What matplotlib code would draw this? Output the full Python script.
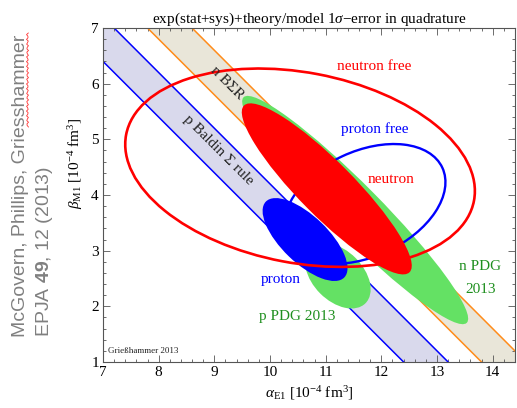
import numpy as np
import matplotlib
matplotlib.use('Agg')
import matplotlib.pyplot as plt
from matplotlib.patches import Ellipse
from matplotlib.ticker import MultipleLocator

plt.rcParams['font.family'] = ['Liberation Serif', 'DejaVu Serif']
plt.rcParams['mathtext.fontset'] = 'custom'
plt.rcParams['mathtext.rm'] = 'Liberation Serif'
plt.rcParams['mathtext.it'] = 'Liberation Serif:italic'
plt.rcParams['mathtext.bf'] = 'Liberation Sans:bold'

# sum rule bands: alpha + beta = centre +- err
baldin_p = [13.8, 0.4]
bsr_n = [15.2, 0.4]

# ellipses: (alpha, beta, half-major, half-minor, angle deg)
n_pdg = [11.53, 3.73, 2.85, 0.45, -45.3]
p_pdg = [11.22, 2.55, 0.70, 0.45, -45.0]
neutron = [11.02, 4.11, 2.11, 0.49, -45.2]
proton = [10.63, 3.20, 0.98, 0.42, -44.0]
neutron_free = [10.54, 4.49, 3.18, 1.71, -10.75]
proton_free = [11.70, 3.84, 1.54, 0.945, 25.0]

# labels: text, alpha, beta, colour, rotation
labels = [
    ('neutron free', 11.88, 6.30, 'red', 0),
    ('proton free', 11.88, 5.19, 'blue', 0),
    ('neutron', 12.17, 4.27, 'red', 0),
    ('proton', 10.20, 2.49, 'blue', 0),
    ('p PDG 2013', 10.48, 1.81, '#1e8f1e', 0),
    ('n PDG', 13.77, 2.71, '#1e8f1e', 0),
    ('2013', 13.79, 2.31, '#1e8f1e', 0),
    (u'n B\u03a3R', 9.23, 6.01, '#222222', -45),
    (u'p Baldin \u03a3 rule', 9.07, 4.81, '#222222', -45),
]

fig = plt.figure(figsize=(5.17, 4.08), dpi=100)
ax = fig.add_axes([0.1992, 0.1127, 0.7968, 0.8187])
ax.set_xlim(7, 14.4)
ax.set_ylim(1, 7)

xs = np.array([5.0, 16.0])

def band(sr, fc, lc):
    c, e = sr
    ax.fill_between(xs, c - e - xs, c + e - xs, color=fc, lw=0, zorder=1)
    ax.plot(xs, c - e - xs, color=lc, lw=1.1, zorder=2)
    ax.plot(xs, c + e - xs, color=lc, lw=1.1, zorder=2)

band(baldin_p, '#d9d9ec', '#0000ff')
band(bsr_n, '#e9e6d9', '#ff8c1a')

def ell(p, z, fc='none', ec='none', lw=0):
    ax.add_patch(Ellipse((p[0], p[1]), 2 * p[2], 2 * p[3], angle=p[4],
                         facecolor=fc, edgecolor=ec, lw=lw, zorder=z))

ell(n_pdg, 3, fc='#64e164')
ell(p_pdg, 3, fc='#64e164')
ell(proton_free, 4, ec='#0000ff', lw=1.7)
ell(neutron, 5, fc='#ff0000')
ell(proton, 5, fc='#0000ff')
ell(neutron_free, 6, ec='#ff0000', lw=1.9)

for t, x, y, c, r in labels:
    ax.text(x, y, t, color=c, fontsize=11, ha='center', va='center',
            rotation=r, rotation_mode='anchor', zorder=7)

ax.text(7.09, 1.195, u'Grie\u00dfhammer 2013', fontsize=6.5, ha='left',
        va='center', color='#222222', zorder=7)

ax.set_title(u'exp(stat+sys)+theory/model 1$\\sigma$\u2212error in quadrature',
             fontsize=11, pad=4)
ax.set_xlabel(r'$\alpha_{\rm E1}$ [10$^{-4}$ fm$^3$]', fontsize=11)
ax.set_ylabel(r'$\beta_{\rm M1}$ [10$^{-4}$ fm$^3$]', fontsize=11)
ax.xaxis.set_label_coords(0.5, -0.065)
ax.yaxis.set_label_coords(-0.044, 0.596)

ax.xaxis.set_major_locator(MultipleLocator(1))
ax.xaxis.set_minor_locator(MultipleLocator(0.2))
ax.yaxis.set_major_locator(MultipleLocator(1))
ax.yaxis.set_minor_locator(MultipleLocator(0.2))
ax.tick_params(which='both', direction='in', top=True, right=True,
               color='#555555', width=0.6, labelsize=11, pad=3)
ax.tick_params(which='major', length=5)
ax.tick_params(which='minor', length=2.5)
for s in ax.spines.values():
    s.set_color('#555555')
    s.set_linewidth(0.8)

# citation down the left side
fig.text(25 / 517, 0.174, 'McGovern, Phillips, Griesshammer', rotation=90,
         rotation_mode='anchor', ha='left', va='baseline', color='#808080',
         fontsize=14, family='Liberation Sans')
fig.text(49 / 517, 0.174, r'EPJA $\mathbf{49}$, 12 (2013)', rotation=90,
         rotation_mode='anchor', ha='left', va='baseline', color='#808080',
         fontsize=14, family='Liberation Sans')

# red spell-check squiggle under "Griesshammer"
sq_y = np.linspace(33, 127, 60)
sq_x = 27.5 + 1.0 * np.sin(sq_y * 1.4)
fig.add_artist(plt.Line2D(sq_x / 517, 1 - sq_y / 408, color='#ff3030',
                          lw=0.6, transform=fig.transFigure))

fig.savefig('out.png', dpi=100)
